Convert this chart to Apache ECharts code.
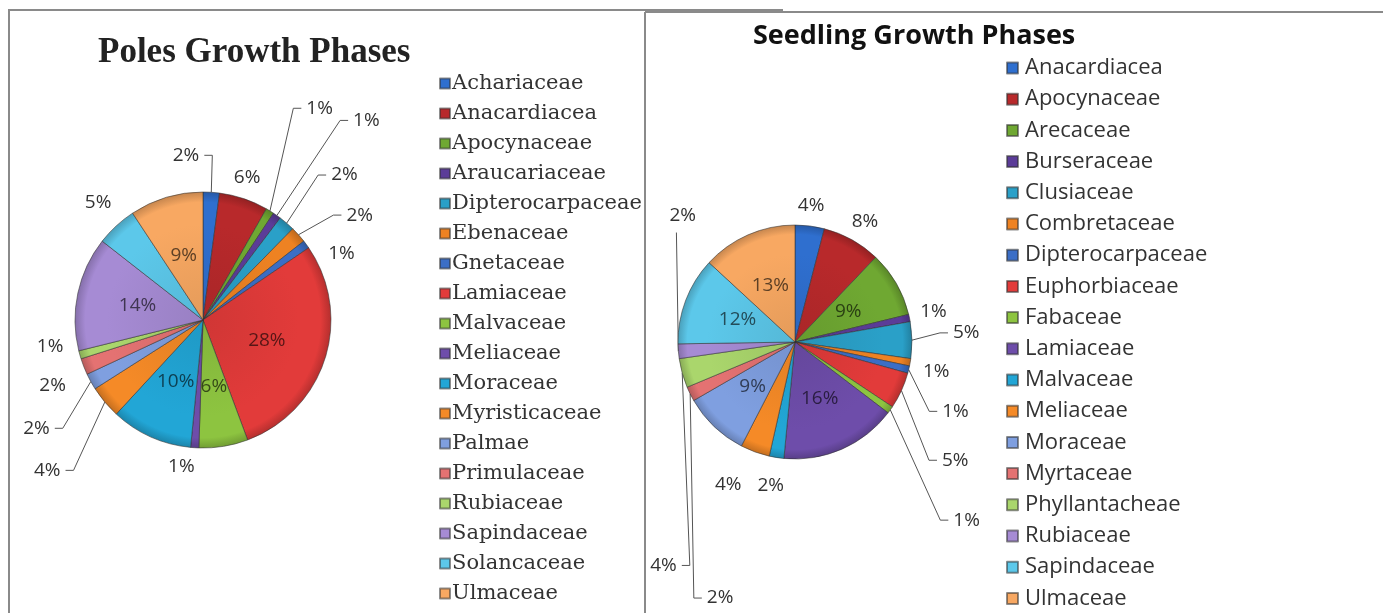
<!DOCTYPE html>
<html><head><meta charset="utf-8">
<script src="https://cdn.jsdelivr.net/npm/echarts@6/dist/echarts.min.js"></script>
<style>html,body{margin:0;padding:0;background:#fff}#c{width:1383px;height:613px}</style>
</head><body><div id="c"></div><script>
// ---- data ----
const polesTitle = 'Poles Growth Phases';
const polesNames = ['Achariaceae','Anacardiacea','Apocynaceae','Araucariaceae','Dipterocarpaceae','Ebenaceae','Gnetaceae','Lamiaceae','Malvaceae','Meliaceae','Moraceae','Myristicaceae','Palmae','Primulaceae','Rubiaceae','Sapindaceae','Solancaceae','Ulmaceae'];
const polesValues = [2,6,1,1,2,2,1,28,6,1,10,4,2,2,1,14,5,9];

const seedTitle = 'Seedling Growth Phases';
const seedNames = ['Anacardiacea','Apocynaceae','Arecaceae','Burseraceae','Clusiaceae','Combretaceae','Dipterocarpaceae','Euphorbiaceae','Fabaceae','Lamiaceae','Malvaceae','Meliaceae','Moraceae','Myrtaceae','Phyllantacheae','Rubiaceae','Sapindaceae','Ulmaceae'];
const seedValues = [4,8,9,1,5,1,1,5,1,16,2,4,9,2,4,2,12,13];

// ---- styles ----
const palette = ['#2F6FCF','#B8292B','#6FA832','#5B3C98','#2AA0C8','#EE8222','#3B6EC6','#E23B3A','#8DC440','#6E4DAA','#22A6D6','#F58A27','#7F9FE0','#E47272','#AAD66C','#A68BD4','#5CC8EA','#F8A862'];
const polesInside = [7,8,10,15,17];
const seedInside = [2,9,12,16,17];
const polesCenter = [203, 320], polesRadius = 128;
const seedCenter = [795, 342], seedRadius = 117;
// label placement tweaks (offsets from the library's default label layout):
// index: [elbowDx, elbowDy, showLine, flipSide, extraLabelDx, extraLabelDy, noHorizontal]
const polesTweaks = {
  0: [0,-21,true,true], 1: [-28,-6,false], 2: [15,-89,true], 3: [54,-82,true], 4: [21,-36,true],
  5: [23,-9,true], 6: [-4,19,false], 9: [14,3,false], 11: [-19,58,true], 12: [-14,39,true],
  13: [10,13,false], 14: [12,-13,false], 16: [19,-12,false]
};
const seedTweaks = {
  0: [-27,-4,false], 1: [-21,-4,false], 3: [-18,-3,false], 4: [12,-7,true], 5: [-16,6,false],
  6: [5,38,true], 7: [13,63,true], 8: [37,101,true], 10: [23,12,false], 11: [5,18,false],
  13: [18,197,true,true], 14: [23,188,true], 15: [14,-120,true,true,-20,-17,true]
};
const LEN = 16, LEN2 = 8, GAP = 5;

function shade(hex, k) {
  const c = echarts.color.parse(hex);
  return 'rgb(' + [0,1,2].map(j => Math.max(0, Math.min(255, Math.round(c[j] * k)))).join(',') + ')';
}
function fillFor(hex, center, r) {
  return { type: 'radial', global: true, x: center[0], y: center[1], r: r,
    colorStops: [
      { offset: 0, color: shade(hex, 0.92) },
      { offset: 0.75, color: hex },
      { offset: 0.92, color: hex },
      { offset: 1, color: shade(hex, 0.8) }
    ] };
}
function buildData(names, values, inside, tweaks, center, r) {
  return names.map((n, i) => {
    const d = { name: n, value: values[i], itemStyle: { color: fillFor(palette[i], center, r) } };
    if (inside.indexOf(i) >= 0) {
      d.label = { position: 'inside', color: shade(palette[i], 0.38) };
      d.labelLine = { show: false };
    } else if (tweaks[i]) {
      d.labelLine = { show: tweaks[i][2] };
    }
    return d;
  });
}
function makeLayout(tweaks) {
  return function (p) {
    const t = tweaks[p.dataIndex];
    if (!t) return {};
    const [dx, dy, showLine, flip, ldx = 0, ldy = 0, noHz] = t;
    const pts = p.labelLinePoints;
    const res = { dx: dx + ldx, dy: dy + ldy };
    if (pts && pts.length === 3) {
      const side = pts[2][0] >= pts[1][0] ? 1 : -1;
      const p0 = pts[0].slice();
      const p1 = [pts[1][0] + dx, pts[1][1] + dy];
      let p2 = [p1[0] + side * LEN2, p1[1]];
      if (flip) {
        p2 = [p1[0] - side * LEN2, p1[1]];
        res.align = side > 0 ? 'right' : 'left';
        res.dx += -side * (2 * LEN2 + 2 * GAP);
      }
      if (noHz) p2 = p1.slice();
      res.labelLinePoints = [p0, p1, p2];
    }
    return res;
  };
}
function legendData(names) {
  return names.map((n, i) => ({ name: n, itemStyle: { color: palette[i] } }));
}

const chart = echarts.init(document.getElementById('c'), null, { renderer: 'canvas' });
const labelFont = '"Open Sans", sans-serif';
function pieSeries(center, r, names, values, inside, tweaks) {
  return {
    type: 'pie', center: center, radius: r, startAngle: 90, clockwise: true,
    avoidLabelOverlap: false,
    data: buildData(names, values, inside, tweaks, center, r),
    itemStyle: { borderColor: 'rgba(50,50,50,0.55)', borderWidth: 1 },
    label: { formatter: '{c}%', fontFamily: labelFont, fontSize: 19, color: '#333', distanceToLabelLine: GAP },
    labelLine: { length: LEN, length2: LEN2, minTurnAngle: 0, lineStyle: { color: '#555', width: 1 } },
    labelLayout: makeLayout(tweaks)
  };
}
chart.setOption({
  backgroundColor: '#fff',
  animation: false,
  title: [
    { text: polesTitle, left: 98, top: 35, padding: 0,
      textStyle: { fontFamily: '"Liberation Serif", serif', fontWeight: 'bold', fontSize: 35, color: '#222' } },
    { text: seedTitle, left: 753, top: 23, padding: 0,
      textStyle: { fontFamily: '"Open Sans", sans-serif', fontWeight: 'bold', fontSize: 27, color: '#111' } }
  ],
  legend: [
    { orient: 'vertical', left: 439, top: 73, bottom: 0, padding: 0, icon: 'rect', itemWidth: 10, itemHeight: 10, itemGap: 9,
      selectedMode: false, data: legendData(polesNames),
      textStyle: { fontFamily: '"DejaVu Serif", serif', fontSize: 21, color: '#333', padding: [0,0,0,-3] } },
    { orient: 'vertical', left: 1006, top: 57, bottom: 0, padding: 0, icon: 'rect', itemWidth: 11, itemHeight: 11, itemGap: 9.2,
      selectedMode: false, data: legendData(seedNames),
      textStyle: { fontFamily: '"Open Sans", sans-serif', fontSize: 22, color: '#333', padding: [0,0,0,2] } }
  ],
  graphic: [
    { type: 'line', shape: { x1: 8, y1: 10, x2: 783, y2: 10 }, style: { stroke: '#8a8a8a', lineWidth: 2 } },
    { type: 'line', shape: { x1: 9, y1: 10, x2: 9, y2: 613 }, style: { stroke: '#8a8a8a', lineWidth: 2 } },
    { type: 'line', shape: { x1: 645, y1: 12, x2: 1383, y2: 12 }, style: { stroke: '#8a8a8a', lineWidth: 2 } },
    { type: 'line', shape: { x1: 645, y1: 12, x2: 645, y2: 613 }, style: { stroke: '#8a8a8a', lineWidth: 2 } }
  ],
  series: [
    pieSeries(polesCenter, polesRadius, polesNames, polesValues, polesInside, polesTweaks),
    pieSeries(seedCenter, seedRadius, seedNames, seedValues, seedInside, seedTweaks)
  ]
});
</script></body></html>
